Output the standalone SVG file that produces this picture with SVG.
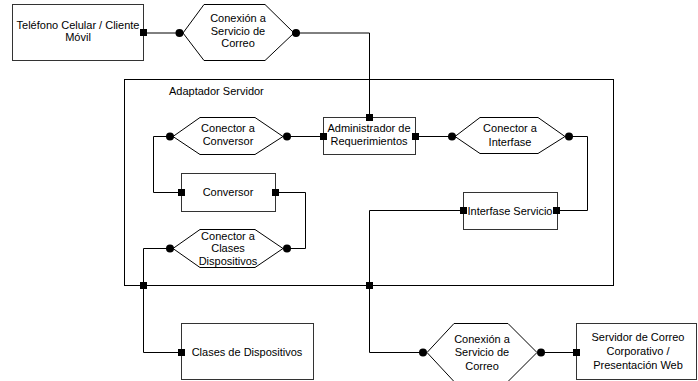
<svg xmlns="http://www.w3.org/2000/svg" width="698" height="381" viewBox="0 0 698 381">
<style>
.box{fill:#fff;stroke:#333;stroke-width:1}
.frame{fill:none;stroke:#000;stroke-width:1}
.hex{fill:#fff;stroke:#000;stroke-width:1}
.ln{fill:none;stroke:#000;stroke-width:1}
.t{font-family:"Liberation Sans",Arial,sans-serif;font-size:11px;fill:#000;text-anchor:middle}
.tl{text-anchor:start}
.sq{fill:#000}
.dot{fill:#000}
</style>
<rect width="698" height="381" fill="#fff"/>
<g id="adaptador">
<rect class="frame" x="124.5" y="79.5" width="489" height="206"/>
<text class="t tl" x="169" y="95">Adaptador Servidor</text>
</g>
<g id="connectors">
<polyline class="ln" points="144,33 179,33"/>
<polyline class="ln" points="296,33 369.5,33 369.5,117"/>
<polyline class="ln" points="287,136.5 323,136.5"/>
<polyline class="ln" points="170,136.5 153.5,136.5 153.5,192.5 181,192.5"/>
<polyline class="ln" points="275,192.5 305.5,192.5 305.5,248.5 287,248.5"/>
<polyline class="ln" points="170,248.5 143.5,248.5 143.5,352.5 181,352.5"/>
<polyline class="ln" points="415,136.5 452,136.5"/>
<polyline class="ln" points="569,136.5 587.5,136.5 587.5,210.5 557,210.5"/>
<polyline class="ln" points="463,210.5 369.5,210.5 369.5,352.5 423,352.5"/>
<polyline class="ln" points="541,352.5 576,352.5"/>
</g>
<g id="telefono">
<rect class="box" x="12.5" y="4.5" width="131" height="56"/>
<text class="t" x="78" y="29">Teléfono Celular / Cliente</text>
<text class="t" x="78" y="41">Móvil</text>
<rect class="sq" x="140" y="29" width="7" height="7"/>
</g>
<g id="conexion1">
<polygon class="hex" points="183,33 204,4.5 265,4.5 294,33 265,60.5 204,60.5"/>
<text class="t" x="238" y="22">Conexión a</text>
<text class="t" x="238" y="35">Servicio de</text>
<text class="t" x="238" y="47">Correo</text>
<circle class="dot" cx="179.5" cy="33" r="4"/>
<circle class="dot" cx="296" cy="33" r="4"/>
</g>
<g id="conectorConversor">
<polygon class="hex" points="173,136.5 200,117.5 255,117.5 283,136.5 255,154.5 200,154.5"/>
<text class="t" x="228" y="132">Conector a</text>
<text class="t" x="228" y="145">Conversor</text>
<circle class="dot" cx="170" cy="136.5" r="4"/>
<circle class="dot" cx="287" cy="136.5" r="4"/>
</g>
<g id="administrador">
<rect class="box" x="323.5" y="117.5" width="92" height="37"/>
<text class="t" x="369" y="132">Administrador de</text>
<text class="t" x="369" y="145">Requerimientos</text>
<rect class="sq" x="366" y="114" width="7" height="7"/>
<rect class="sq" x="320" y="133" width="7" height="7"/>
<rect class="sq" x="412" y="133" width="7" height="7"/>
</g>
<g id="conectorInterfase">
<polygon class="hex" points="455,136.5 480,117.5 538,117.5 565,136.5 538,153.5 480,153.5"/>
<text class="t" x="510" y="132">Conector a</text>
<text class="t" x="510" y="146">Interfase</text>
<circle class="dot" cx="452" cy="136.5" r="4"/>
<circle class="dot" cx="569" cy="136.5" r="4"/>
</g>
<g id="conversor">
<rect class="box" x="181.5" y="173.5" width="94" height="38"/>
<text class="t" x="228" y="196">Conversor</text>
<rect class="sq" x="178" y="189" width="7" height="7"/>
<rect class="sq" x="272" y="189" width="7" height="7"/>
</g>
<g id="conectorClases">
<polygon class="hex" points="173,248.5 200,229.5 255,229.5 283,248.5 255,267.5 200,267.5"/>
<text class="t" x="228" y="240">Conector a</text>
<text class="t" x="228" y="252">Clases</text>
<text class="t" x="228" y="265">Dispositivos</text>
<circle class="dot" cx="170" cy="248.5" r="4"/>
<circle class="dot" cx="287" cy="248.5" r="4"/>
</g>
<g id="interfase">
<rect class="box" x="463.5" y="192.5" width="94" height="37"/>
<text class="t" x="510" y="215">Interfase Servicio</text>
<rect class="sq" x="460" y="207" width="7" height="7"/>
<rect class="sq" x="553" y="207" width="7" height="7"/>
</g>
<g id="junctions">
<rect class="sq" x="140" y="282" width="7" height="7"/>
<rect class="sq" x="366" y="282" width="7" height="7"/>
</g>
<g id="clases">
<rect class="box" x="181.5" y="323.5" width="132" height="56"/>
<text class="t" x="247" y="356">Clases de Dispositivos</text>
<rect class="sq" x="178" y="349" width="7" height="7"/>
</g>
<g id="conexion2">
<polygon class="hex" points="427,352.5 454,323.5 508,323.5 537,352.5 508,381.5 454,381.5"/>
<text class="t" x="482" y="343">Conexión a</text>
<text class="t" x="482" y="356">Servicio de</text>
<text class="t" x="482" y="370">Correo</text>
<circle class="dot" cx="423" cy="352.5" r="4"/>
<circle class="dot" cx="541" cy="352.5" r="4"/>
</g>
<g id="servidor">
<rect class="box" x="576.5" y="323.5" width="120" height="56"/>
<text class="t" x="638" y="341">Servidor de Correo</text>
<text class="t" x="638" y="355">Corporativo /</text>
<text class="t" x="638" y="369">Presentación Web</text>
<rect class="sq" x="573" y="349" width="7" height="7"/>
</g>
</svg>
